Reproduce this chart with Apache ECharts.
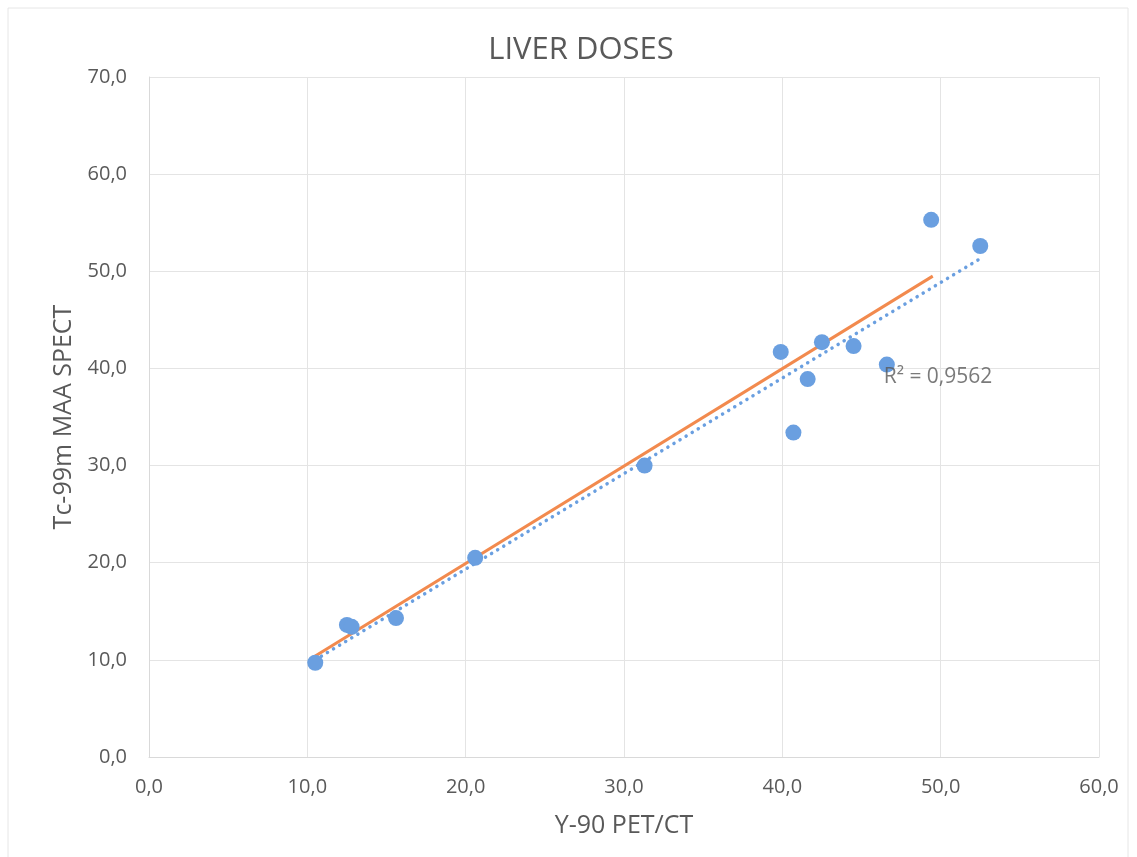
<!DOCTYPE html>
<html>
<head>
<meta charset="utf-8">
<script src="https://cdn.jsdelivr.net/npm/echarts@6/dist/echarts.min.js"></script>
<style>html,body{margin:0;padding:0;background:#fff}#c{width:1137px;height:857px}</style>
</head>
<body>
<div id="c"></div>
<script>
const xVals = [10.5, 12.5, 12.8, 15.6, 20.6, 31.3, 39.9, 40.7, 41.6, 42.5, 44.5, 46.6, 49.4, 52.5];
const yVals = [9.7, 13.6, 13.4, 14.3, 20.5, 30.0, 41.7, 33.4, 38.9, 42.7, 42.3, 40.4, 55.3, 52.6];
const identityX = [10.4, 49.5];
const identityY = [10.3, 49.5];
const trendX = [10.5, 52.5];
const trendY = [10.0, 51.3];
const r2Text = 'R² = 0,9562';
const r2Pos = [46.4, 39.1];

const pts = xVals.map((x, i) => [x, yVals[i]]);
const idLine = identityX.map((x, i) => [x, identityY[i]]);
const trLine = trendX.map((x, i) => [x, trendY[i]]);
const fmt = v => v.toFixed(1).replace('.', ',');
const txt = '#595959';
const font = 'Open Sans';

const chart = echarts.init(document.getElementById('c'));
chart.setOption({
  animation: false,
  textStyle: { fontFamily: font },
  title: {
    text: 'LIVER DOSES', left: 576, textAlign: 'center', top: 30,
    textStyle: { fontFamily: font, fontSize: 31, fontWeight: 'normal', color: txt }
  },
  graphic: [{
    type: 'rect', shape: { x: 8, y: 8, width: 1120, height: 870 },
    style: { fill: 'none', stroke: '#e6e6e6', lineWidth: 1 }, silent: true, z: -1
  }],
  grid: { left: 149, right: 38, top: 77, bottom: 100 },
  xAxis: {
    type: 'value', min: 0, max: 60, interval: 10,
    name: 'Y-90 PET/CT', nameLocation: 'middle', nameGap: 56,
    nameTextStyle: { fontSize: 25, color: txt, fontFamily: font },
    axisLine: { show: true, lineStyle: { color: '#d9d9d9' } },
    axisTick: { show: false },
    axisLabel: { formatter: fmt, fontSize: 20, color: txt, margin: 20 },
    splitLine: { show: true, lineStyle: { color: '#e4e4e4' } }
  },
  yAxis: {
    type: 'value', min: 0, max: 70, interval: 10,
    name: 'Tc-99m MAA SPECT', nameLocation: 'middle', nameGap: 71,
    nameTextStyle: { fontSize: 25, color: txt, fontFamily: font },
    axisLine: { show: true, lineStyle: { color: '#d9d9d9' } },
    axisTick: { show: false },
    axisLabel: { formatter: fmt, fontSize: 20, color: txt, margin: 22 },
    splitLine: { show: true, lineStyle: { color: '#e4e4e4' } }
  },
  series: [
    {
      type: 'line', data: trLine, symbol: 'none', z: 2,
      lineStyle: { color: '#6a9fe0', width: 3.5, type: [0.1, 7], cap: 'round' }
    },
    {
      type: 'line', data: idLine, symbol: 'none', z: 3,
      lineStyle: { color: '#f28a4e', width: 3 }
    },
    {
      type: 'scatter', data: pts, symbolSize: 16, z: 4,
      itemStyle: { color: '#6a9fe0', opacity: 1 }
    },
    {
      type: 'scatter', data: [r2Pos], symbolSize: 0, z: 5,
      label: { show: true, position: 'right', distance: 0, formatter: r2Text, fontSize: 21, color: txt, fontFamily: font }
    }
  ]
});
</script>
</body>
</html>
